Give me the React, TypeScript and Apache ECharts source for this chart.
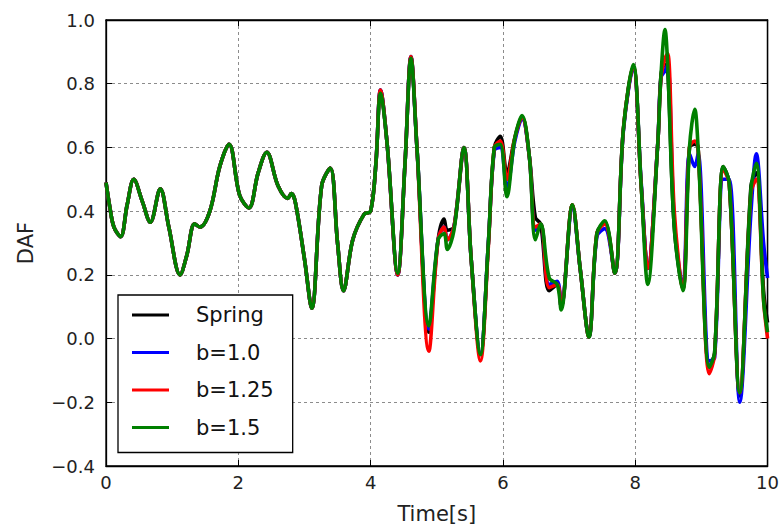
import React, { useEffect, useRef } from "react";
import * as echarts from "echarts";

const seriesNames = ["Spring", "b=1.0", "b=1.25", "b=1.5"];
const seriesColors = ["#000000", "#0000ff", "#ff0000", "#008000"];

const times = [
  0, 0.06, 0.12, 0.22, 0.32, 0.42, 0.55, 0.67, 0.82, 0.95,
  1.12, 1.22, 1.34, 1.42, 1.57, 1.72, 1.86, 2.02, 2.16, 2.3,
  2.43, 2.6, 2.75, 2.8, 2.86, 3.0, 3.11, 3.26, 3.39, 3.5,
  3.59, 3.73, 3.9, 4.0, 4.08, 4.15, 4.25, 4.41, 4.52, 4.61,
  4.7, 4.88, 5.02, 5.11, 5.16, 5.26, 5.41, 5.52, 5.66, 5.78,
  5.87, 5.96, 6.06, 6.18, 6.29, 6.4, 6.49, 6.57, 6.7, 6.82,
  6.88, 7.05, 7.17, 7.3, 7.42, 7.54, 7.69, 7.82, 7.97, 8.09,
  8.19, 8.34, 8.39, 8.45, 8.49, 8.59, 8.72, 8.82, 8.9, 8.95,
  9.12, 9.2, 9.33, 9.42, 9.58, 9.75, 9.83, 9.94, 10.0,
];

const springValues = [
  0.49, 0.41, 0.35, 0.32, 0.42, 0.5, 0.43, 0.365, 0.47, 0.35,
  0.2, 0.26, 0.36, 0.35, 0.4, 0.54, 0.61, 0.45, 0.41, 0.52,
  0.585, 0.48, 0.44, 0.455, 0.43, 0.25, 0.095, 0.48, 0.535, 0.3,
  0.15, 0.31, 0.39, 0.4, 0.55, 0.78, 0.61, 0.2, 0.55, 0.885,
  0.6, 0.02, 0.31, 0.375, 0.34, 0.35, 0.6, 0.25, -0.05, 0.3,
  0.6, 0.635, 0.52, 0.63, 0.695, 0.57, 0.38, 0.36, 0.15, 0.17,
  0.1, 0.42, 0.215, 0.005, 0.33, 0.365, 0.205, 0.655, 0.855, 0.48,
  0.22, 0.61, 0.83, 0.86, 0.85, 0.35, 0.155, 0.6, 0.61, 0.6,
  -0.09, -0.045, 0.54, 0.49, -0.18, 0.48, 0.52, 0.15, 0.05,
];

const b10Values = [
  0.49, 0.41, 0.35, 0.32, 0.42, 0.5, 0.43, 0.365, 0.47, 0.35,
  0.2, 0.26, 0.36, 0.35, 0.4, 0.54, 0.61, 0.45, 0.41, 0.52,
  0.585, 0.48, 0.44, 0.455, 0.43, 0.25, 0.095, 0.48, 0.535, 0.3,
  0.15, 0.31, 0.39, 0.4, 0.55, 0.78, 0.61, 0.2, 0.55, 0.885,
  0.6, 0.03, 0.31, 0.35, 0.31, 0.35, 0.6, 0.25, -0.05, 0.3,
  0.59, 0.6, 0.47, 0.62, 0.69, 0.57, 0.34, 0.36, 0.17, 0.18,
  0.1, 0.41, 0.215, 0.005, 0.32, 0.345, 0.205, 0.65, 0.85, 0.49,
  0.22, 0.61, 0.82, 0.84, 0.86, 0.37, 0.16, 0.58, 0.54, 0.58,
  -0.07, -0.06, 0.5, 0.5, -0.2, 0.4, 0.58, 0.3, 0.19,
];

const b125Values = [
  0.49, 0.41, 0.35, 0.32, 0.42, 0.5, 0.43, 0.365, 0.47, 0.35,
  0.2, 0.26, 0.36, 0.35, 0.4, 0.54, 0.61, 0.45, 0.41, 0.52,
  0.585, 0.48, 0.44, 0.455, 0.43, 0.25, 0.095, 0.48, 0.535, 0.3,
  0.15, 0.31, 0.39, 0.4, 0.55, 0.78, 0.61, 0.2, 0.55, 0.885,
  0.6, -0.04, 0.31, 0.35, 0.31, 0.35, 0.6, 0.25, -0.07, 0.29,
  0.6, 0.62, 0.5, 0.63, 0.695, 0.57, 0.35, 0.36, 0.16, 0.17,
  0.1, 0.42, 0.215, 0.005, 0.33, 0.36, 0.205, 0.655, 0.855, 0.48,
  0.22, 0.61, 0.82, 0.88, 0.895, 0.4, 0.155, 0.6, 0.62, 0.6,
  -0.11, -0.05, 0.53, 0.49, -0.17, 0.46, 0.5, 0.12, 0.0,
];

const b15Values = [
  0.49, 0.41, 0.35, 0.32, 0.42, 0.5, 0.43, 0.365, 0.47, 0.35,
  0.2, 0.26, 0.36, 0.35, 0.4, 0.54, 0.61, 0.45, 0.41, 0.52,
  0.585, 0.48, 0.44, 0.455, 0.43, 0.25, 0.095, 0.48, 0.535, 0.3,
  0.15, 0.31, 0.39, 0.4, 0.55, 0.77, 0.61, 0.205, 0.55, 0.88,
  0.6, 0.04, 0.31, 0.33, 0.28, 0.34, 0.6, 0.25, -0.05, 0.3,
  0.6, 0.61, 0.445, 0.63, 0.7, 0.57, 0.31, 0.36, 0.19, 0.17,
  0.09, 0.42, 0.215, 0.005, 0.33, 0.37, 0.205, 0.655, 0.86, 0.48,
  0.17, 0.61, 0.83, 0.97, 0.86, 0.35, 0.15, 0.6, 0.72, 0.6,
  -0.09, -0.045, 0.54, 0.49, -0.17, 0.47, 0.55, 0.12, 0.02,
];

const allValues = [springValues, b10Values, b125Values, b15Values];

const xTicks = { min: 0, max: 10, interval: 2 };
const yTicks = { min: -0.4, max: 1.0, interval: 0.2 };

const FONT = "DejaVu Sans";

export default function App() {
  const ref = useRef<HTMLDivElement>(null);

  useEffect(() => {
    if (!ref.current) return;
    const chart = echarts.init(ref.current, undefined, { renderer: "svg" });

    const frameLine = { show: true, onZero: false, lineStyle: { color: "#000", width: 1.3 } };
    const inTick = { show: true, inside: true, length: 6, lineStyle: { color: "#000", width: 1 } };
    const gridLine = { show: true, lineStyle: { color: "#8c8c8c", width: 1, type: [3, 3] as any } };

    const series = seriesNames.map((name, i) => ({
      name,
      type: "line",
      xAxisIndex: 0,
      yAxisIndex: 0,
      data: times.map((t, k) => [t, allValues[i][k]]),
      showSymbol: false,
      smooth: 0.35,
      lineStyle: { color: seriesColors[i], width: 3.6 },
      itemStyle: { color: seriesColors[i] },
      z: 2 + i,
    }));

    chart.setOption({
      animation: false,
      backgroundColor: "#ffffff",
      grid: {
        left: 106,
        right: 8,
        top: 20,
        bottom: 63,
        containLabel: false,
        show: true,
        borderColor: "#000",
        borderWidth: 1.3,
        backgroundColor: "transparent",
      },
      legend: {
        orient: "vertical",
        left: 118,
        top: 295,
        icon: "rect",
        itemWidth: 37,
        itemHeight: 3,
        itemGap: 15.5,
        padding: [9, 19, 14, 14],
        borderColor: "#000",
        borderWidth: 1.3,
        backgroundColor: "#fff",
        data: seriesNames,
        textStyle: { fontFamily: FONT, fontSize: 21, color: "#111", lineHeight: 22, padding: [0, 0, 0, 22] },
      },
      xAxis: [
        {
          type: "value",
          position: "bottom",
          ...xTicks,
          axisLine: frameLine,
          axisTick: inTick,
          splitLine: gridLine,
          axisLabel: { fontFamily: FONT, fontSize: 18, color: "#222", margin: 7 },
          name: "Time[s]",
          nameLocation: "middle",
          nameGap: 37,
          nameTextStyle: { fontFamily: FONT, fontSize: 21, color: "#222" },
        },
        {
          type: "value",
          position: "top",
          ...xTicks,
          axisLine: frameLine,
          axisTick: inTick,
          splitLine: { show: false },
          axisLabel: { show: false },
        },
      ],
      yAxis: [
        {
          type: "value",
          position: "left",
          ...yTicks,
          axisLine: frameLine,
          axisTick: inTick,
          splitLine: gridLine,
          axisLabel: {
            fontFamily: FONT,
            fontSize: 18,
            color: "#222",
            margin: 11,
            formatter: (v: number) => (v < 0 ? "\u2212" + Math.abs(v).toFixed(1) : v.toFixed(1)),
          },
          name: "DAF",
          nameLocation: "middle",
          nameGap: 70,
          nameTextStyle: { fontFamily: FONT, fontSize: 21, color: "#222" },
        },
        {
          type: "value",
          position: "right",
          ...yTicks,
          axisLine: frameLine,
          axisTick: inTick,
          splitLine: { show: false },
          axisLabel: { show: false },
        },
      ],
      series,
    });

    return () => chart.dispose();
  }, []);

  return (
    <div
      ref={ref}
      style={{ position: "absolute", left: 0, top: 0, width: 782, height: 529, background: "#fff" }}
    />
  );
}
